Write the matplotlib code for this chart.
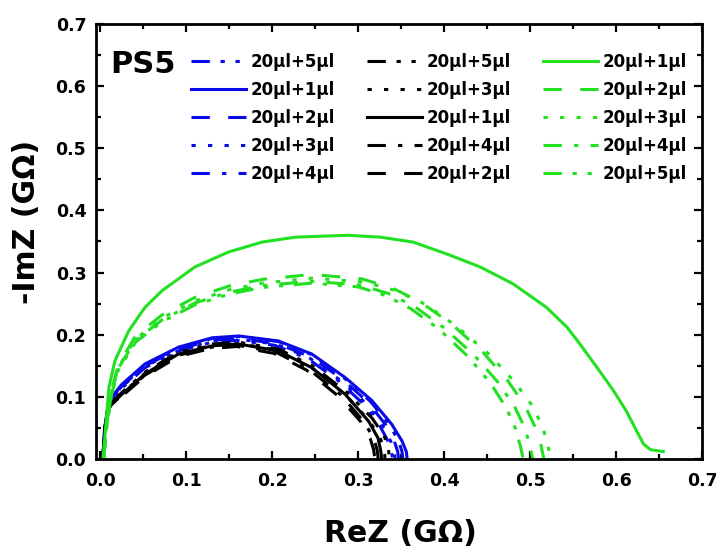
import matplotlib.pyplot as plt
from matplotlib.ticker import MultipleLocator

# Nyquist plots, PS5 sample, three sets of additions
labels_blue = ["20μl+5μl", "20μl+1μl", "20μl+2μl", "20μl+3μl", "20μl+4μl"]
labels_black = ["20μl+5μl", "20μl+3μl", "20μl+1μl", "20μl+4μl", "20μl+2μl"]
labels_green = ["20μl+1μl", "20μl+2μl", "20μl+3μl", "20μl+4μl", "20μl+5μl"]

# blue set (ReZ, -ImZ in GOhm)
b5_re = [0.003, 0.005, 0.010, 0.025, 0.052, 0.091, 0.130, 0.161, 0.207, 0.246, 0.284, 0.314, 0.336, 0.347, 0.351, 0.352]
b5_im = [0.000, 0.050, 0.093, 0.119, 0.152, 0.179, 0.194, 0.197, 0.189, 0.168, 0.130, 0.093, 0.056, 0.029, 0.012, 0.000]
b1_re = [0.003, 0.005, 0.010, 0.025, 0.052, 0.091, 0.130, 0.161, 0.207, 0.246, 0.285, 0.316, 0.339, 0.351, 0.356, 0.357]
b1_im = [0.000, 0.050, 0.094, 0.120, 0.153, 0.180, 0.195, 0.198, 0.190, 0.169, 0.131, 0.094, 0.056, 0.029, 0.012, 0.000]
b2_re = [0.003, 0.005, 0.010, 0.025, 0.052, 0.091, 0.130, 0.160, 0.205, 0.244, 0.282, 0.311, 0.332, 0.342, 0.346, 0.347]
b2_im = [0.000, 0.048, 0.091, 0.117, 0.150, 0.177, 0.191, 0.194, 0.186, 0.165, 0.128, 0.092, 0.055, 0.029, 0.012, 0.000]
b3_re = [0.003, 0.005, 0.010, 0.025, 0.052, 0.091, 0.130, 0.160, 0.204, 0.242, 0.279, 0.308, 0.328, 0.338, 0.342, 0.343]
b3_im = [0.000, 0.047, 0.090, 0.116, 0.149, 0.176, 0.190, 0.193, 0.185, 0.164, 0.127, 0.091, 0.055, 0.028, 0.012, 0.000]
b4_re = [0.003, 0.005, 0.010, 0.025, 0.052, 0.091, 0.130, 0.159, 0.203, 0.241, 0.277, 0.305, 0.325, 0.335, 0.339, 0.340]
b4_im = [0.000, 0.046, 0.089, 0.114, 0.147, 0.174, 0.188, 0.191, 0.183, 0.162, 0.126, 0.090, 0.054, 0.028, 0.011, 0.000]

# black set
k5_re = [0.003, 0.005, 0.009, 0.025, 0.052, 0.091, 0.130, 0.161, 0.207, 0.247, 0.287, 0.316, 0.330, 0.335, 0.336, 0.336]
k5_im = [0.000, 0.046, 0.085, 0.107, 0.140, 0.172, 0.185, 0.188, 0.177, 0.150, 0.107, 0.066, 0.038, 0.018, 0.006, 0.000]
k3_re = [0.003, 0.005, 0.009, 0.025, 0.052, 0.091, 0.130, 0.161, 0.206, 0.245, 0.284, 0.312, 0.325, 0.330, 0.331, 0.331]
k3_im = [0.000, 0.045, 0.084, 0.105, 0.138, 0.170, 0.183, 0.186, 0.175, 0.148, 0.105, 0.063, 0.036, 0.017, 0.006, 0.000]
k1_re = [0.003, 0.005, 0.009, 0.025, 0.052, 0.091, 0.130, 0.161, 0.207, 0.246, 0.285, 0.312, 0.323, 0.326, 0.327, 0.327]
k1_im = [0.000, 0.045, 0.083, 0.104, 0.137, 0.169, 0.182, 0.185, 0.174, 0.147, 0.104, 0.061, 0.034, 0.015, 0.005, 0.000]
k4_re = [0.003, 0.005, 0.009, 0.025, 0.052, 0.091, 0.130, 0.160, 0.204, 0.242, 0.280, 0.306, 0.318, 0.322, 0.323, 0.323]
k4_im = [0.000, 0.044, 0.082, 0.103, 0.135, 0.167, 0.180, 0.183, 0.172, 0.145, 0.103, 0.061, 0.034, 0.015, 0.005, 0.000]
k2_re = [0.003, 0.005, 0.009, 0.025, 0.052, 0.091, 0.129, 0.159, 0.202, 0.240, 0.277, 0.303, 0.314, 0.318, 0.319, 0.320]
k2_im = [0.000, 0.044, 0.081, 0.101, 0.133, 0.165, 0.178, 0.181, 0.170, 0.143, 0.101, 0.060, 0.033, 0.015, 0.005, 0.000]

# green set
g1_re = [0.003, 0.005, 0.010, 0.017, 0.033, 0.052, 0.072, 0.110, 0.149, 0.188, 0.227, 0.288, 0.326, 0.364,
         0.403, 0.442, 0.480, 0.519, 0.543, 0.558, 0.578, 0.597, 0.612, 0.624, 0.632, 0.640, 0.655]
g1_im = [0.000, 0.030, 0.115, 0.158, 0.206, 0.244, 0.271, 0.309, 0.333, 0.349, 0.357, 0.360, 0.357, 0.349,
         0.330, 0.309, 0.282, 0.244, 0.212, 0.185, 0.147, 0.110, 0.077, 0.045, 0.024, 0.015, 0.012]
g2_re = [0.004, 0.007, 0.013, 0.021, 0.041, 0.072, 0.110, 0.149, 0.188, 0.246, 0.304, 0.340, 0.372, 0.408, 0.445, 0.474, 0.494, 0.506, 0.513, 0.516]
g2_im = [0.000, 0.050, 0.110, 0.152, 0.198, 0.232, 0.260, 0.278, 0.289, 0.297, 0.290, 0.275, 0.253, 0.218, 0.172, 0.126, 0.086, 0.051, 0.020, 0.000]
g3_re = [0.004, 0.007, 0.013, 0.021, 0.041, 0.072, 0.110, 0.149, 0.188, 0.246, 0.306, 0.344, 0.378, 0.414, 0.452, 0.482, 0.503, 0.515, 0.521, 0.524]
g3_im = [0.000, 0.048, 0.107, 0.148, 0.193, 0.227, 0.254, 0.272, 0.283, 0.291, 0.285, 0.271, 0.249, 0.214, 0.169, 0.124, 0.085, 0.050, 0.020, 0.000]
g4_re = [0.004, 0.007, 0.013, 0.021, 0.041, 0.072, 0.110, 0.149, 0.188, 0.246, 0.302, 0.336, 0.366, 0.400, 0.435, 0.463, 0.482, 0.494, 0.500, 0.503]
g4_im = [0.000, 0.047, 0.105, 0.146, 0.191, 0.224, 0.251, 0.268, 0.279, 0.286, 0.280, 0.266, 0.245, 0.211, 0.167, 0.123, 0.084, 0.050, 0.020, 0.000]
g5_re = [0.004, 0.007, 0.013, 0.021, 0.041, 0.072, 0.110, 0.149, 0.188, 0.246, 0.300, 0.332, 0.361, 0.394, 0.427, 0.454, 0.472, 0.483, 0.489, 0.492]
g5_im = [0.000, 0.046, 0.103, 0.143, 0.188, 0.221, 0.248, 0.265, 0.276, 0.283, 0.277, 0.263, 0.242, 0.209, 0.166, 0.122, 0.083, 0.049, 0.019, 0.000]

BLUE = "#0a0ae6"
BLACK = "#000000"
GREEN = "#22e022"

solid = "-"
dashed = (0, (6, 6))
dotted = (0, (1.4, 4))
dashdot = (0, (6, 4, 1.4, 4))
dashdotdot = (0, (6, 3.5, 1.4, 3.5, 1.4, 3.5))

plt.rcParams["font.family"] = "DejaVu Sans"
plt.rcParams["font.weight"] = "bold"

fig = plt.figure(figsize=(7.16, 5.5), dpi=100)
ax = fig.add_axes([96 / 716, 1 - 459 / 550, 606 / 716, 435 / 550])

curves = [
    (b5_re, b5_im, BLUE, dashdotdot, labels_blue[0]),
    (b1_re, b1_im, BLUE, solid, labels_blue[1]),
    (b2_re, b2_im, BLUE, dashed, labels_blue[2]),
    (b3_re, b3_im, BLUE, dotted, labels_blue[3]),
    (b4_re, b4_im, BLUE, dashdot, labels_blue[4]),
    (k5_re, k5_im, BLACK, dashdotdot, labels_black[0]),
    (k3_re, k3_im, BLACK, dotted, labels_black[1]),
    (k1_re, k1_im, BLACK, solid, labels_black[2]),
    (k4_re, k4_im, BLACK, dashdot, labels_black[3]),
    (k2_re, k2_im, BLACK, dashed, labels_black[4]),
    (g1_re, g1_im, GREEN, solid, labels_green[0]),
    (g2_re, g2_im, GREEN, dashed, labels_green[1]),
    (g3_re, g3_im, GREEN, dotted, labels_green[2]),
    (g4_re, g4_im, GREEN, dashdot, labels_green[3]),
    (g5_re, g5_im, GREEN, dashdotdot, labels_green[4]),
]
for re, im, c, ls, lab in curves:
    ax.plot(re, im, color=c, linestyle=ls, lw=2.2, label=lab)

ax.set_xlim(-0.005, 0.7)
ax.set_ylim(0, 0.7)
ax.xaxis.set_major_locator(MultipleLocator(0.1))
ax.xaxis.set_minor_locator(MultipleLocator(0.05))
ax.yaxis.set_major_locator(MultipleLocator(0.1))
ax.yaxis.set_minor_locator(MultipleLocator(0.05))
ax.xaxis.set_major_formatter(plt.FormatStrFormatter("%.1f"))
ax.yaxis.set_major_formatter(plt.FormatStrFormatter("%.1f"))
ax.tick_params(which="both", direction="in", top=True, right=True, width=1.6)
ax.tick_params(which="major", length=6, labelsize=12.5, pad=7)
ax.tick_params(which="minor", length=3.5)
ax.tick_params(axis="x", which="major", pad=9)
for lab in ax.get_xticklabels() + ax.get_yticklabels():
    lab.set_fontweight("bold")
for sp in ax.spines.values():
    sp.set_linewidth(2.0)

leg = ax.legend(ncol=3, loc="upper left", bbox_to_anchor=(0.145, 0.948), frameon=False,
                prop={"size": 12, "weight": "bold"}, handlelength=3.3, handletextpad=0.3,
                columnspacing=1.9, labelspacing=0.6, borderaxespad=0)

fig.text(110 / 716, 1 - 50 / 550, "PS5", fontsize=22, fontweight="bold", ha="left", va="top")
fig.text(400 / 716, 1 - 533 / 550, "ReZ (GΩ)", fontsize=21.5, fontweight="bold", ha="center", va="center")
fig.text(27 / 716, 1 - 222 / 550, "-ImZ (GΩ)", fontsize=21.5, fontweight="bold", ha="center", va="center",
         rotation=90)

fig.savefig("out.png", dpi=100)
